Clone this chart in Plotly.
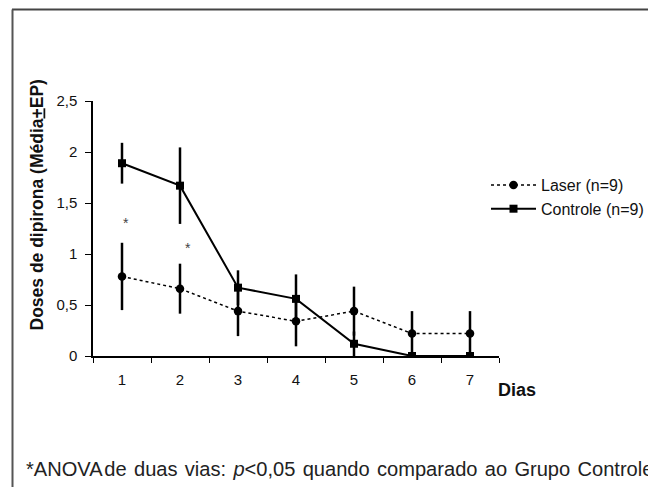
import plotly.graph_objects as go

dias = ["1", "2", "3", "4", "5", "6", "7"]
laser = [0.78, 0.66, 0.44, 0.34, 0.44, 0.22, 0.22]
laser_ep = [0.33, 0.245, 0.245, 0.245, 0.24, 0.22, 0.22]
controle = [1.89, 1.67, 0.67, 0.56, 0.12, 0.0, 0.0]
controle_ep = [0.2, 0.375, 0.17, 0.24, 0.12, 0.0, 0.0]
y_ticks = [0, 0.5, 1, 1.5, 2, 2.5]
asterisk_pos = [(0.07, 1.30), (1.14, 1.06)]

# the page body adds an 8px margin; positions below are in window pixels
OFF = 8
W, H = 656 - OFF, 487 - OFF
L, R, T, B = 93, 499, 101, 356
PW, PH = R - L, B - T


def px(x):
    return (x - L) / PW


def py(y):
    return (B - y) / PH


FONT = "Liberation Sans, Arial, sans-serif"
SP = " \u200a"

fig = go.Figure()
fig.add_trace(go.Scatter(
    x=dias, y=laser, name="Laser (n=9)", mode="lines+markers",
    line=dict(color="black", width=1.5, dash="dot"),
    marker=dict(symbol="circle", size=8.5, color="black"),
    error_y=dict(type="data", array=laser_ep, width=0, thickness=2.5, color="black"),
))
fig.add_trace(go.Scatter(
    x=dias, y=controle, name="Controle (n=9)", mode="lines+markers",
    line=dict(color="black", width=2),
    marker=dict(symbol="square", size=8, color="black"),
    error_y=dict(type="data", array=controle_ep, width=0, thickness=2.5, color="black"),
))

annotations = []
for ax_, ay_ in asterisk_pos:
    annotations.append(dict(x=ax_, y=ay_, xref="x", yref="y", text="*", showarrow=False,
                            font=dict(family=FONT, size=14, color="#444")))
annotations.append(dict(x=px(36), y=py(205.5), xref="paper", yref="paper",
                        text="<b>Doses de dipirona (Média<u>+</u>EP)</b>", textangle=-90,
                        showarrow=False, xanchor="center", yanchor="middle",
                        font=dict(family=FONT, size=17.5, color="#111")))
annotations.append(dict(x=px(517), y=py(390), xref="paper", yref="paper",
                        text="<b>Dias</b>", showarrow=False, xanchor="center", yanchor="middle",
                        font=dict(family=FONT, size=18, color="#111")))
foot = ("*ANOVA\u200ade" + SP + "duas" + SP + "vias:" + SP + "<i>p</i>&lt;0,05" + SP + "quando"
        + SP + "comparado" + SP + "ao" + SP + "Grupo" + SP + "Controle")
annotations.append(dict(x=px(24), y=py(469), xref="paper", yref="paper",
                        text=foot, showarrow=False, xanchor="left", yanchor="middle",
                        font=dict(family=FONT, size=20.1, color="#222")))

shapes = [
    dict(type="line", xref="paper", yref="paper", x0=px(12), x1=px(720), y0=py(9.5), y1=py(9.5),
         line=dict(color="#444", width=2)),
    dict(type="line", xref="paper", yref="paper", x0=px(12.5), x1=px(12.5), y0=py(9.5), y1=py(540),
         line=dict(color="#555", width=2)),
]

fig.update_layout(
    width=W, height=H,
    margin=dict(l=L - OFF, r=W - (R - OFF), t=T - OFF, b=H - (B - OFF), autoexpand=False),
    paper_bgcolor="white", plot_bgcolor="white",
    separators=", ",
    font=dict(family=FONT, size=15, color="#111"),
    showlegend=True,
    legend=dict(x=px(486), y=py(168), xanchor="left", yanchor="top",
                font=dict(family=FONT, size=16, color="#111"),
                itemwidth=45, bgcolor="rgba(0,0,0,0)", tracegroupgap=0),
    xaxis=dict(type="category", range=[-0.5, 6.5], tickson="boundaries", ticks="outside",
               ticklen=5, tickcolor="black", tickwidth=1.2, showline=True, linecolor="black",
               linewidth=1.5, showgrid=False, zeroline=False, tickfont=dict(size=15),
               ticklabelstandoff=9),
    yaxis=dict(range=[0, 2.5], tickvals=y_ticks, ticks="outside", ticklen=6, tickcolor="black",
               tickwidth=1.2, showline=True, linecolor="black", linewidth=1.5, showgrid=False,
               zeroline=False, tickfont=dict(size=15), ticklabelstandoff=5),
    annotations=annotations,
    shapes=shapes,
)

fig.write_html("out.html")
